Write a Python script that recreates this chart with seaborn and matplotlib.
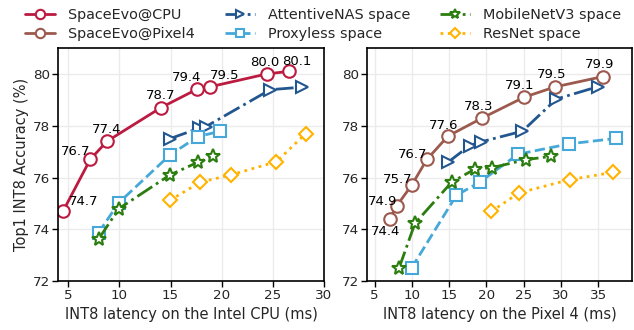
import matplotlib
matplotlib.use("Agg")
import matplotlib.pyplot as plt
import seaborn as sns
import pandas as pd

# ---- data: Intel CPU panel ----
cpu_evo_x = [4.49, 7.15, 8.79, 14.07, 17.54, 18.83, 24.42, 26.6]
cpu_evo_y = [74.7, 76.7, 77.4, 78.7, 79.4, 79.5, 80.0, 80.1]
cpu_att_x = [14.94, 17.83, 18.47, 24.74, 27.86]
cpu_att_y = [77.50, 77.91, 77.97, 79.39, 79.49]
cpu_prox_x = [7.96, 9.95, 14.94, 17.67, 19.79]
cpu_prox_y = [73.87, 75.03, 76.87, 77.58, 77.78]
cpu_mbv3_x = [7.96, 9.95, 14.94, 17.67, 19.15]
cpu_mbv3_y = [73.62, 74.80, 76.10, 76.59, 76.82]
cpu_res_x = [14.94, 17.90, 20.88, 25.35, 28.20]
cpu_res_y = [75.12, 75.82, 76.10, 76.61, 77.69]

# ---- data: Pixel 4 panel ----
px_evo_x = [7.01, 7.96, 9.97, 12.03, 14.85, 19.46, 25.06, 29.23, 35.68]
px_evo_y = [74.4, 74.9, 75.7, 76.7, 77.6, 78.3, 79.1, 79.5, 79.9]
px_att_x = [14.85, 17.76, 19.33, 24.84, 29.4, 35.0]
px_att_y = [76.59, 77.23, 77.38, 77.79, 79.03, 79.51]
px_prox_x = [9.97, 15.97, 19.1, 24.25, 31.1, 37.38]
px_prox_y = [72.51, 75.31, 75.82, 76.90, 77.30, 77.51]
px_mbv3_x = [8.27, 10.42, 15.34, 18.48, 20.77, 25.29, 28.74]
px_mbv3_y = [72.49, 74.23, 75.82, 76.33, 76.38, 76.69, 76.82]
px_res_x = [20.67, 24.39, 31.2, 37.02]
px_res_y = [74.69, 75.41, 75.92, 76.20]

labels = ["SpaceEvo@CPU", "SpaceEvo@Pixel4", "AttentiveNAS space",
          "Proxyless space", "MobileNetV3 space", "ResNet space"]

# annotation offsets (pixels)
cpu_offsets = [(21, 10), (-15, 8), (0, 12), (0, 12), (-10, 12), (15, 11), (-2, 11), (8, 10)]
px_offsets = [(-4, -13), (-14, 5), (-14, 6), (-14, 5), (-4, 11), (-4, 11), (-4, 12), (-4, 12), (-4, 12)]

sns.set_theme(style="whitegrid")
plt.rcParams["font.family"] = ["DejaVu Sans"]

styles = {
    "SpaceEvo@CPU": dict(color="#bc1a40", marker="o", linestyle="-", markersize=9),
    "SpaceEvo@Pixel4": dict(color="#9c5a4e", marker="o", linestyle="-", markersize=9),
    "AttentiveNAS space": dict(color="#22568f", marker=">", linestyle="-.", markersize=8),
    "Proxyless space": dict(color="#45a8d8", marker="s", linestyle="--", markersize=8),
    "MobileNetV3 space": dict(color="#2b7d0f", marker="*", linestyle="-.", markersize=10),
    "ResNet space": dict(color="#ffb300", marker="D", linestyle=":", markersize=7),
}

fig = plt.figure(figsize=(6.34, 3.3), dpi=100)
ax1 = fig.add_axes([0.0915, 0.148, 0.4195, 0.7065])
ax2 = fig.add_axes([0.579, 0.148, 0.4185, 0.7065])


def draw(ax, xs, ys, name):
    st = styles[name]
    df = pd.DataFrame({"x": xs, "y": ys})
    sns.lineplot(data=df, x="x", y="y", ax=ax, sort=False, color=st["color"],
                 linestyle=st["linestyle"], linewidth=2, marker=st["marker"],
                 markersize=st["markersize"], markerfacecolor="white",
                 markeredgecolor=st["color"], markeredgewidth=1.5, label=name,
                 legend=False)


draw(ax1, cpu_evo_x, cpu_evo_y, "SpaceEvo@CPU")
draw(ax1, cpu_att_x, cpu_att_y, "AttentiveNAS space")
draw(ax1, cpu_prox_x, cpu_prox_y, "Proxyless space")
draw(ax1, cpu_mbv3_x, cpu_mbv3_y, "MobileNetV3 space")
draw(ax1, cpu_res_x, cpu_res_y, "ResNet space")

draw(ax2, px_evo_x, px_evo_y, "SpaceEvo@Pixel4")
draw(ax2, px_att_x, px_att_y, "AttentiveNAS space")
draw(ax2, px_prox_x, px_prox_y, "Proxyless space")
draw(ax2, px_mbv3_x, px_mbv3_y, "MobileNetV3 space")
draw(ax2, px_res_x, px_res_y, "ResNet space")

for x, y, (dx, dy) in zip(cpu_evo_x, cpu_evo_y, cpu_offsets):
    ax1.annotate(f"{y:.1f}", (x, y), xytext=(dx, dy), textcoords="offset pixels",
                 ha="center", va="center", fontsize=9.5, color="black")
for x, y, (dx, dy) in zip(px_evo_x, px_evo_y, px_offsets):
    ax2.annotate(f"{y:.1f}", (x, y), xytext=(dx, dy), textcoords="offset pixels",
                 ha="center", va="center", fontsize=9.5, color="black")

ax1.set_xlim(4, 30)
ax2.set_xlim(4, 39.6)
for ax in (ax1, ax2):
    ax.set_ylim(72, 81)
    ax.set_yticks([72, 74, 76, 78, 80])
    ax.grid(True, color="#ebebeb", linewidth=1)
    for s in ax.spines.values():
        s.set_color("black")
        s.set_linewidth(1.2)
    ax.tick_params(axis="both", which="both", direction="out", length=4, width=1,
                   color="black", labelsize=9.7, pad=1.5, bottom=True, left=True)
    ax.set_axisbelow(True)

ax1.set_xticks([5, 10, 15, 20, 25, 30])
ax2.set_xticks([5, 10, 15, 20, 25, 30, 35])
ax1.set_xlabel("INT8 latency on the Intel CPU (ms)", fontsize=10.5, labelpad=4)
ax2.set_xlabel("INT8 latency on the Pixel 4 (ms)", fontsize=10.5, labelpad=4)
ax1.set_ylabel("Top1 INT8 Accuracy (%)", fontsize=10.5, labelpad=3)
ax2.set_ylabel("")

# legend handles
h1, l1 = ax1.get_legend_handles_labels()
h2, l2 = ax2.get_legend_handles_labels()
hmap = dict(zip(l1, h1))
hmap.update(dict(zip(l2, h2)))
handles = [hmap[n] for n in labels]
fig.legend(handles, labels, loc="upper left", bbox_to_anchor=(0.0216, 1.012), ncol=3,
           frameon=False, fontsize=10.4, handlelength=2.08, columnspacing=2.05,
           labelspacing=0.4, handletextpad=0.9, markerscale=0.75,
           borderpad=0.3)

fig.savefig("out.png", dpi=100)
